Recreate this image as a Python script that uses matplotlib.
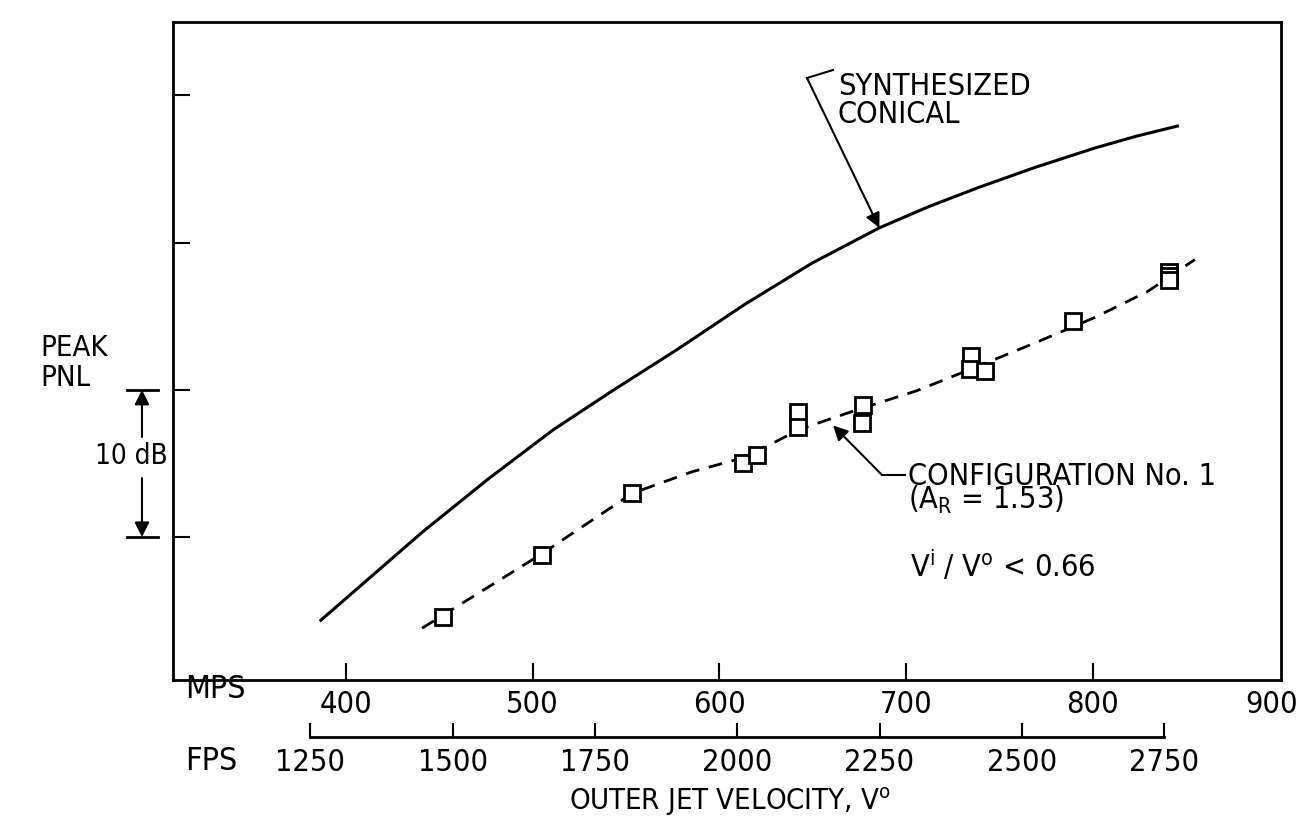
import matplotlib
matplotlib.use('Agg')
import matplotlib.pyplot as plt
from matplotlib import font_manager as fm
from matplotlib.lines import Line2D

# pick a narrow / condensed sans face if one is installed (the original lettering is condensed)
narrow = [f for f in fm.fontManager.ttflist
          if f.style == 'normal'
          and ('Narrow' in f.name or 'Condensed' in f.name
               or str(f.stretch) in ('condensed', 'semi-condensed'))]
narrow.sort(key=lambda f: (abs(int(f.weight) - 400) if str(f.weight).isdigit() else 200,
                           'DejaVu' not in f.name))
if narrow:
    base = narrow[0]
    plt.rcParams['font.family'] = [base.name, 'DejaVu Sans']
    plt.rcParams['font.stretch'] = base.stretch
    pattern = '%s:stretch=%s' % (base.name, base.stretch)
else:
    plt.rcParams['font.family'] = ['DejaVu Sans']
    pattern = 'DejaVu Sans'
plt.rcParams['mathtext.fontset'] = 'custom'
plt.rcParams['mathtext.rm'] = pattern
plt.rcParams['mathtext.it'] = pattern

# --- data (outer jet velocity in m/s, peak PNL relative to an arbitrary level, dB) ---
conical_v = [386.6, 440.9, 476.2, 511.0, 542.8, 578.2, 613.6, 649.6, 685.7, 712.3,
             738.8, 769.2, 801.1, 823.5, 845.3]
conical_pnl = [-5.65, 0.33, 3.94, 7.28, 9.94, 12.8, 15.8, 18.6, 21.0, 22.45,
               23.74, 25.11, 26.42, 27.23, 27.91]

fair_v = [440.8, 504.8, 553.4, 584.8, 614.1, 643.3, 675.2, 705.6, 736.4, 770.9, 801.2, 829.4, 854.7]
fair_pnl = [-6.19, -1.15, 2.97, 4.41, 5.43, 7.33, 8.70, 9.93, 11.49, 13.28, 14.92, 16.68, 18.85]

config1_v = [451.9, 504.8, 553.4, 612.6, 620.0, 642.0, 642.2, 676.8, 676.4,
             734.7, 734.3, 742.3, 789.5, 840.9, 841.0, 841.0]
config1_pnl = [-5.42, -1.22, 2.97, 5.02, 5.58, 8.49, 7.47, 8.94, 7.75,
               12.31, 11.42, 11.30, 14.68, 18.0, 17.73, 17.46]

mps_ticks = [400, 500, 600, 700, 800, 900]
fps_ticks = [1250, 1500, 1750, 2000, 2250, 2500, 2750]
pnl_ticks = [0, 10, 20, 30]

W, H = 1303, 834
AX_L, AX_W = 173, 1108


def fx(px):
    return px / W


def fy(py):
    return 1 - py / H


def mps_to_fps(v):
    return v / 0.3048


def fps_to_mps(v):
    return v * 0.3048


fig = plt.figure(figsize=(W / 100, H / 100), dpi=100)
ax = fig.add_axes([fx(AX_L), fy(680), AX_W / W, 658 / H])
ytr = ax.get_yaxis_transform()

ax.plot(conical_v, conical_pnl, color='black', lw=2.2)
ax.plot(fair_v, fair_pnl, color='black', lw=2.0, ls=(0, (5, 3.5)))
ax.plot(config1_v, config1_pnl, ls='none', marker='s', ms=12, mfc='white',
        mec='black', mew=2)

ax.set_xlim(307.4, 900.8)
ax.set_ylim(-9.71, 34.98)
ax.set_xticks(mps_ticks[:-1])
ax.set_yticks(pnl_ticks)
ax.set_yticklabels([])
ax.tick_params(axis='x', direction='in', length=12, width=1.5, labelsize=22, pad=7)
ax.tick_params(axis='y', direction='in', length=12, width=1.5)
for s in ax.spines.values():
    s.set_linewidth(2)
# last MPS label sits under the right-hand frame edge
ax.annotate(str(mps_ticks[-1]), xy=(mps_ticks[-1], 0), xycoords=ax.get_xaxis_transform(),
            xytext=(-6, -7.5), textcoords='offset points', ha='center', va='top',
            fontsize=22)

sec = ax.secondary_xaxis(-0.0859, functions=(mps_to_fps, fps_to_mps))
sec.set_xticks(fps_ticks)
sec.tick_params(direction='in', length=10, width=1.5, labelsize=22, pad=8)
sec.spines['bottom'].set_bounds(1250, 2750)
sec.spines['bottom'].set_linewidth(2)

# axis texts
fig.text(fx(185), fy(690), 'MPS', fontsize=23, va='center', ha='left')
fig.text(fx(185), fy(762), 'FPS', fontsize=23, va='center', ha='left')
fig.text(fx(730), fy(802), r'OUTER JET VELOCITY, V$^{\mathrm{o}}$', fontsize=21,
         va='center', ha='center')
ax.text((40 - AX_L) / AX_W, 13.8, 'PEAK\nPNL', fontsize=21, va='top', ha='left',
        linespacing=1.1, transform=ytr)

# 10 dB bracket
ax.text(-0.0378, 5.5, '10 dB', fontsize=20, va='center', ha='center', transform=ytr)
for yb in (0, 10):
    ax.plot([-0.0415, -0.0135], [yb, yb], color='black', lw=2,
            transform=ytr, clip_on=False)
arrow = dict(arrowstyle='-|>', color='black', lw=1.5, mutation_scale=22,
             shrinkA=0, shrinkB=0)
ax.annotate('', xy=(-0.028, 10), xytext=(-0.028, 6.8),
            xycoords=ytr, textcoords=ytr, arrowprops=arrow)
ax.annotate('', xy=(-0.028, 0), xytext=(-0.028, 4.0),
            xycoords=ytr, textcoords=ytr, arrowprops=arrow)

# synthesized conical label
fig.text(fx(838), fy(123), 'SYNTHESIZED\nCONICAL', fontsize=22, va='baseline', ha='left',
         linespacing=0.95)
ax.annotate('', xy=(685.7, 21.0), xytext=(fx(807), fy(78)),
            textcoords='figure fraction', arrowprops=arrow)
fig.add_artist(Line2D([fx(807), fx(833)], [fy(78), fy(70)], color='black', lw=1.5))

# configuration label
fig.text(fx(908), fy(509), 'CONFIGURATION No. 1\n' + r'(A$_{\mathrm{R}}$ = 1.53)',
         fontsize=22, va='baseline', ha='left', linespacing=0.72)
fig.text(fx(910), fy(577), r'V$^{\mathrm{i}}$ / V$^{\mathrm{o}}$ < 0.66', fontsize=22,
         va='baseline', ha='left')
ax.annotate('', xy=(660.9, 7.58), xytext=(fx(882), fy(475)),
            textcoords='figure fraction', arrowprops=arrow)
fig.add_artist(Line2D([fx(882), fx(905)], [fy(475), fy(475)], color='black', lw=1.5))

fig.savefig('out.png', dpi=100)
